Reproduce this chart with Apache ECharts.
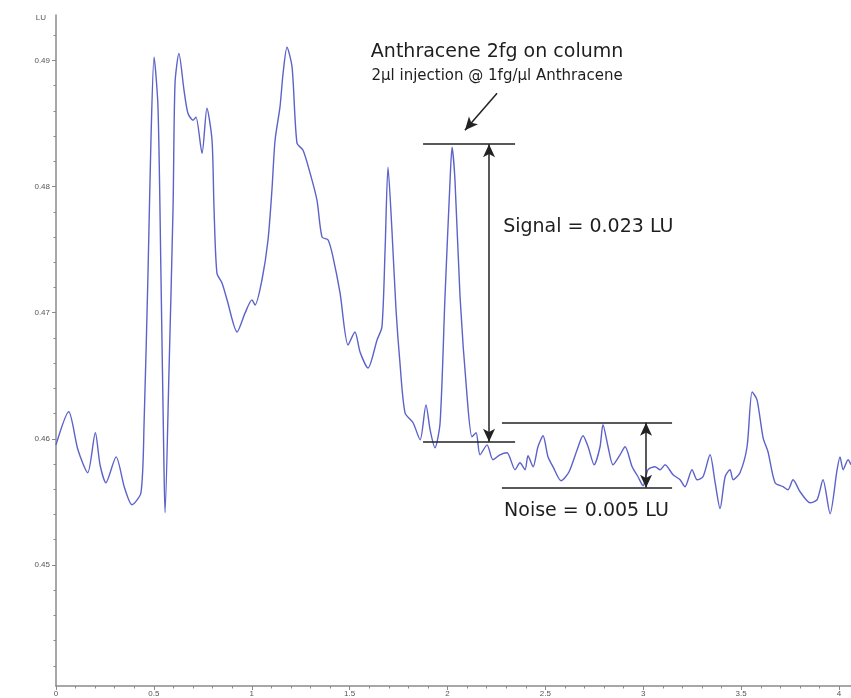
<!DOCTYPE html>
<html>
<head>
<meta charset="utf-8">
<script src="https://cdn.jsdelivr.net/npm/echarts@6/dist/echarts.min.js"></script>
<style>
html,body{margin:0;padding:0;background:#fff;}
#chart{width:851px;height:698px;}
</style>
</head>
<body>
<div id="chart"></div>
<script>
// Retention time (min)
var times = [0.000,0.065,0.112,0.162,0.201,0.225,0.255,0.307,0.350,0.388,0.434,0.450,0.470,0.485,0.501,0.521,0.536,0.552,0.557,0.577,0.598,0.608,0.628,0.654,0.674,0.700,0.715,0.746,0.771,0.797,0.807,0.822,0.848,0.874,0.925,0.966,1.001,1.017,1.052,1.083,1.103,1.119,1.144,1.160,1.180,1.206,1.231,1.262,1.298,1.333,1.359,1.390,1.415,1.451,1.492,1.527,1.553,1.594,1.640,1.665,1.681,1.696,1.716,1.737,1.757,1.783,1.824,1.860,1.890,1.911,1.936,1.962,1.987,2.013,2.023,2.038,2.064,2.100,2.125,2.146,2.166,2.202,2.232,2.268,2.304,2.345,2.370,2.396,2.411,2.437,2.462,2.488,2.513,2.539,2.580,2.621,2.662,2.692,2.718,2.749,2.779,2.794,2.820,2.845,2.881,2.907,2.943,2.973,2.999,3.024,3.060,3.086,3.111,3.152,3.188,3.213,3.249,3.275,3.305,3.341,3.367,3.392,3.418,3.443,3.459,3.494,3.530,3.556,3.581,3.612,3.637,3.673,3.714,3.739,3.765,3.801,3.852,3.888,3.918,3.954,3.990,4.005,4.021,4.046,4.061];
// Fluorescence signal (LU)
var lu = [0.45952,0.46214,0.45913,0.45731,0.46048,0.45794,0.45652,0.45857,0.45612,0.45477,0.45572,0.46127,0.47314,0.48367,0.49025,0.48629,0.47314,0.45731,0.45414,0.46523,0.47837,0.48819,0.49056,0.48763,0.48581,0.48526,0.48550,0.48264,0.48621,0.48367,0.47837,0.47314,0.47235,0.47101,0.46847,0.46998,0.47101,0.47061,0.47259,0.47576,0.47972,0.48367,0.48629,0.48898,0.49104,0.48945,0.48344,0.48288,0.48106,0.47892,0.47599,0.47576,0.47441,0.47156,0.46744,0.46847,0.46689,0.46562,0.46784,0.46887,0.47496,0.48154,0.47655,0.47021,0.46602,0.46206,0.46127,0.45992,0.46269,0.46071,0.45929,0.46127,0.47124,0.48051,0.48312,0.48051,0.47124,0.46333,0.46016,0.46048,0.45873,0.45952,0.45834,0.45873,0.45889,0.45755,0.45810,0.45755,0.45865,0.45778,0.45937,0.46024,0.45857,0.45778,0.45667,0.45739,0.45913,0.46024,0.45937,0.45794,0.45937,0.46111,0.45937,0.45794,0.45873,0.45937,0.45778,0.45699,0.45628,0.45755,0.45778,0.45755,0.45794,0.45715,0.45675,0.45620,0.45755,0.45675,0.45699,0.45873,0.45652,0.45446,0.45699,0.45755,0.45675,0.45731,0.45937,0.46372,0.46309,0.46008,0.45897,0.45652,0.45620,0.45596,0.45675,0.45580,0.45493,0.45517,0.45675,0.45406,0.45755,0.45857,0.45755,0.45834,0.45794];

var yMajorTicks = [0.45,0.46,0.47,0.48,0.49];
var yMinorTicks = [0.442,0.444,0.446,0.448,0.452,0.454,0.456,0.458,0.462,0.464,0.466,0.468,0.472,0.474,0.476,0.478,0.482,0.484,0.486,0.488,0.492];

// Annotation geometry (data units)
var signalTop = 0.48336, signalBase = 0.45976, signalX = [1.875, 2.345], signalArrowX = 2.212;
var noiseTop = 0.46127, noiseBase = 0.45612, noiseX = [2.278, 3.147], noiseArrowX = 3.014;
var pointerFrom = [2.253, 0.48740], pointerTo = [2.089, 0.48447];
var titleLines = ['Anthracene 2fg on column', '2\u00b5l injection @ 1fg/\u00b5l Anthracene'];
var titlePos = [[2.253, 0.49064], [2.253, 0.48872]];
var signalText = 'Signal = 0.023 LU', signalTextPos = [2.284, 0.47679];
var noiseText = 'Noise = 0.005 LU', noiseTextPos = [2.289, 0.45430];

var data = times.map(function(t, i){ return [t, lu[i]]; });

var chart = echarts.init(document.getElementById('chart'), null, {renderer:'canvas'});
var axisColor = '#8a8a8a';
var font = 'Liberation Sans, Arial, sans-serif';
var noteFont = 'DejaVu Sans, Liberation Sans, sans-serif';
var txtColor = '#1e1e1e';

function lineItem(a, b, s1, s2){
  return [{coord:a, symbol:s1}, {coord:b, symbol:s2}];
}

chart.setOption({
  animation:false,
  backgroundColor:'#fff',
  grid:{left:56, right:0, top:15, bottom:12, containLabel:false},
  xAxis:{
    type:'value', min:0, max:4.061, interval:0.5,
    axisLine:{show:true, onZero:false, lineStyle:{color:axisColor, width:1.5}},
    axisTick:{show:true, length:4, lineStyle:{color:axisColor}},
    minorTick:{show:true, splitNumber:5, length:2.5, lineStyle:{color:axisColor}},
    splitLine:{show:false},
    axisLabel:{show:true, fontSize:8, color:'#555', margin:4, fontFamily:font, showMaxLabel:false,
      formatter:function(v){ return String(+v.toFixed(1)); }}
  },
  yAxis:[{
    type:'value', min:0.4404, max:0.4936,
    name:'LU', nameLocation:'end', nameGap:-3,
    nameTextStyle:{fontSize:8, color:'#555', align:'right', verticalAlign:'middle', padding:[0,10,0,0], fontFamily:font},
    axisLine:{show:true, lineStyle:{color:axisColor, width:1.5}},
    axisTick:{show:true, length:4, customValues:yMajorTicks, lineStyle:{color:axisColor}},
    axisLabel:{show:true, fontSize:8, color:'#555', margin:6, fontFamily:font, customValues:yMajorTicks,
      formatter:function(v){ return v.toFixed(2); }},
    splitLine:{show:false}
  },{
    type:'value', min:0.4404, max:0.4936, position:'left', offset:0,
    axisLine:{show:false},
    axisTick:{show:true, length:2.5, customValues:yMinorTicks, lineStyle:{color:axisColor}},
    axisLabel:{show:false},
    splitLine:{show:false}
  }],
  series:[{
    type:'line', data:data, yAxisIndex:0,
    showSymbol:false, symbol:'none', smooth:0.25,
    lineStyle:{color:'#5c62c8', width:1.4},
    markLine:{
      silent:true, animation:false,
      label:{show:false},
      lineStyle:{color:'#222', width:1.5, type:'solid'},
      symbolSize:[9,13],
      data:[
        lineItem([signalX[0], signalTop], [signalX[1], signalTop], 'none', 'none'),
        lineItem([signalX[0], signalBase], [signalX[1], signalBase], 'none', 'none'),
        lineItem([signalArrowX, signalTop], [signalArrowX, signalBase], 'arrow', 'arrow'),
        lineItem([noiseX[0], noiseTop], [noiseX[1], noiseTop], 'none', 'none'),
        lineItem([noiseX[0], noiseBase], [noiseX[1], noiseBase], 'none', 'none'),
        lineItem([noiseArrowX, noiseTop], [noiseArrowX, noiseBase], 'arrow', 'arrow'),
        lineItem(pointerFrom, pointerTo, 'none', 'arrow')
      ]
    },
    markPoint:{
      silent:true, animation:false,
      symbol:'circle', symbolSize:0,
      data:[
        {coord:titlePos[0], label:{show:true, formatter:titleLines[0], position:'inside', align:'center', verticalAlign:'middle', fontSize:19, color:txtColor, fontFamily:noteFont}},
        {coord:titlePos[1], label:{show:true, formatter:titleLines[1], position:'inside', align:'center', verticalAlign:'middle', fontSize:15, color:txtColor, fontFamily:noteFont}},
        {coord:signalTextPos, label:{show:true, formatter:signalText, position:[0,0], align:'left', verticalAlign:'middle', fontSize:19, color:txtColor, fontFamily:noteFont}},
        {coord:noiseTextPos, label:{show:true, formatter:noiseText, position:[0,0], align:'left', verticalAlign:'middle', fontSize:19, color:txtColor, fontFamily:noteFont}}
      ]
    }
  }]
});
</script>
</body>
</html>
